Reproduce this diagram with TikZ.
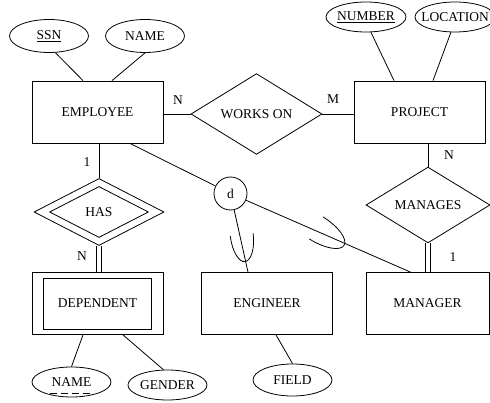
\documentclass[tikz,border=0pt]{standalone}
\usepackage{fontspec}
\setmainfont{Liberation Serif}
\usetikzlibrary{shapes.geometric}

\tikzset{
  entity/.style={draw,rectangle,minimum width=131pt,minimum height=62pt,inner sep=0pt},
  attr/.style={draw,ellipse,minimum width=79pt,minimum height=32pt,inner xsep=-8pt,inner ysep=0pt},
  rel/.style={draw,diamond,inner sep=0pt},
  card/.style={inner sep=1pt},
  sub/.style={line width=0.8pt},
}

\begin{document}
\begin{tikzpicture}[x=1pt,y=1pt,line width=0.8pt,font=\fontsize{13.5}{16}\selectfont]
\useasboundingbox (0,0) rectangle (490,402);
% entities
\node[entity] (emp) at (97.5,290) {EMPLOYEE};
\node[entity] (proj) at (419.5,290) {PROJECT};
\node[entity] (dep) at (97.5,98.5) {};
\node[entity,minimum width=108pt,minimum height=51pt] (depin) at (97.5,98.5) {DEPENDENT};
\node[entity] (eng) at (267,98.5) {ENGINEER};
\node[entity,minimum width=123pt] (mgr) at (427.5,98.5) {MANAGER};
% relationships
\node[rel,minimum width=131pt,minimum height=68pt] (works) at (256.5,288) {WORKS ON};
\node[rel,minimum width=124pt,minimum height=66pt] (manages) at (428,197) {MANAGES};
\node[rel,minimum width=130pt,minimum height=67pt] (has) at (99,190) {};
\node[rel,minimum width=99pt,minimum height=51pt] (hasin) at (99,190) {HAS};
\node[draw,circle,minimum size=33pt,inner sep=0pt] (disj) at (230.5,208.5) {d};
% attributes
\node[attr,minimum height=33pt] (ssn) at (49,366) {\underline{SSN}};
\node[attr,minimum height=33pt] (ename) at (145,366) {NAME};
\node[attr,minimum width=80pt,minimum height=30pt] (pnum) at (366,385) {\underline{NUMBER}};
\node[attr,minimum width=80pt,minimum height=30pt] (ploc) at (455,385) {LOCATION};
\node[attr,minimum height=30pt] (dname) at (71.5,20) {NAME};
\node[attr,minimum height=30pt] (gender) at (167.5,17) {GENDER};
\node[attr] (field) at (292.5,22) {FIELD};
\draw[dash pattern=on 7pt off 4pt,line width=0.6pt] ([xshift=-21.5pt,yshift=-11pt]dname.center) -- ([xshift=18.5pt,yshift=-11pt]dname.center);

\draw (ssn.-69) -- ([xshift=-14.5pt]emp.north);
\draw (ename.south) -- ([xshift=14.5pt]emp.north);
\draw (pnum.-72) -- ([xshift=-25.5pt]proj.north);
\draw (ploc.-105) -- ([xshift=13.5pt]proj.north);
\draw (works.west -| emp.east) -- (works.west);
\draw (works.east) -- (works.east -| proj.west);
\draw ([xshift=8.5pt]proj.south) -- (manages.north);
\draw[double,double distance=4pt] (manages.south) -- (manages.south |- mgr.north);
\draw (emp.south -| has.north) -- (has.north);
\draw[double,double distance=4pt] (has.south) -- (has.south |- dep.north);
\draw ([xshift=-14.5pt]dep.south) -- (dname.north);
\draw ([xshift=25.5pt]dep.south) -- (gender.105);
\draw ([xshift=9pt]eng.south) -- (field.north);
% specialization
\draw ([xshift=32.5pt]emp.south) -- (disj);
\draw (disj) -- coordinate[pos=0.4] (uen) ([xshift=-19pt]eng.north);
\draw (disj) -- coordinate[pos=0.426] (umg) ([xshift=-17pt]mgr.north);
\draw[sub,shift={(uen)},xshift=2pt,rotate=7] (-11.5,0) arc[start angle=180,end angle=360,x radius=11.5,y radius=27];
\draw[sub,shift={(umg)},yshift=3pt,rotate=58] (-13,0) arc[start angle=180,end angle=360,x radius=13,y radius=33];
% cardinalities
\node[card] (nw) at (178,302) {N};
\node[card] (mw) at (333,303) {M};
\node[card] (nm) at (449,247) {N};
\node[card] (oh) at (87,240) {1};
\node[card] (nh) at (82,146) {N};
\node[card] (om) at (453,145) {1};
\end{tikzpicture}
\end{document}
